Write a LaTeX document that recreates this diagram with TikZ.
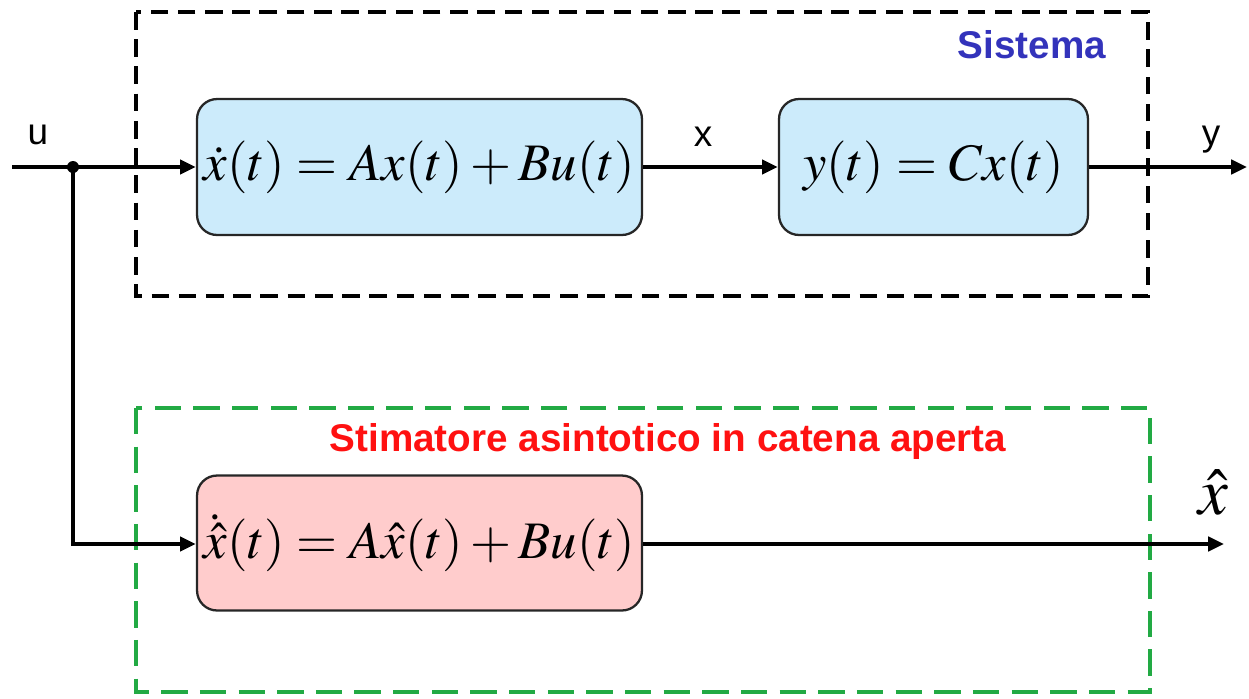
\documentclass[tikz,border=0pt]{standalone}
\usepackage{mathptmx}
\usepackage{fontspec}
\setsansfont{Liberation Sans}
\usetikzlibrary{arrows.meta}
\definecolor{boxblue}{HTML}{CCEBFB}
\definecolor{boxred}{HTML}{FFCCCC}
\definecolor{sysblue}{HTML}{3333BB}
\definecolor{estgreen}{HTML}{22AA44}
\definecolor{estred}{HTML}{FF1111}
\tikzset{
  px/.style={x=0.02cm,y=-0.02cm},
  block/.style={draw=black!85,line width=1.3pt,rounded corners=0.4cm,inner sep=0pt,minimum height=2.72cm},
  eq/.style={font=\fontsize{30}{34}\selectfont},
  sig/.style={line width=2.3pt,-{Triangle[length=9pt,width=8pt]}},
  wire/.style={line width=2.3pt},
  lab/.style={font=\sffamily\fontsize{21}{24}\selectfont},
  title/.style={font=\sffamily\bfseries\fontsize{22}{26}\selectfont}
}
\begin{document}
\begin{tikzpicture}[px]
\useasboundingbox (0,0) rectangle (1249,698);
% frames
\draw[line width=2pt,dash pattern=on 10pt off 5.5pt] (136,12) rectangle (1148,296);
\draw[estgreen,line width=2.2pt,dash pattern=on 15pt off 7pt] (136,408) rectangle (1150,692);
\node[title,text=sysblue] (tsys) at (1032,45) {Sistema};
\node[title,text=estred] (test) at (668,441) {Stimatore asintotico in catena aperta};
% blocks
\node[block,fill=boxblue,minimum width=8.9cm,eq] (b1) at (419.5,167) {$\dot{x}(t)=Ax(t)+Bu(t)$};
\node[block,fill=boxblue,minimum width=6.18cm,eq] (b2) at (933.5,167) {$y(t)=Cx(t)$};
\node[block,fill=boxred,minimum width=8.9cm,minimum height=2.7cm,eq] (b3) at (419.5,543) {$\dot{\hat{x}}(t)=A\hat{x}(t)+Bu(t)$};
% signals
\coordinate (uin) at (12,167);
\fill (73,167) circle (0.12cm);
\coordinate (br) at (73,167);
\coordinate (corner) at (73,544);
\coordinate (yout) at (1247,167);
\coordinate (xhout) at (1224,544);
\draw[wire] (uin) -- (br);
\draw[sig] (br) -- (b1.west);
\draw[sig] (br) -- (corner) -- (b3.west |- corner);
\draw[sig] (b1.east) -- (b2.west);
\draw[sig] (b2.east) -- (yout);
\draw[sig] (b3.east |- corner) -- (xhout);
% labels
\node[lab] (lu) at (38,135) {u};
\node[lab] (lx) at (703,137) {x};
\node[lab] (ly) at (1211,140) {y};
\node[font=\fontsize{38}{42}\selectfont] (lxh) at (1213,493) {$\hat{x}$};
\end{tikzpicture}
\end{document}
